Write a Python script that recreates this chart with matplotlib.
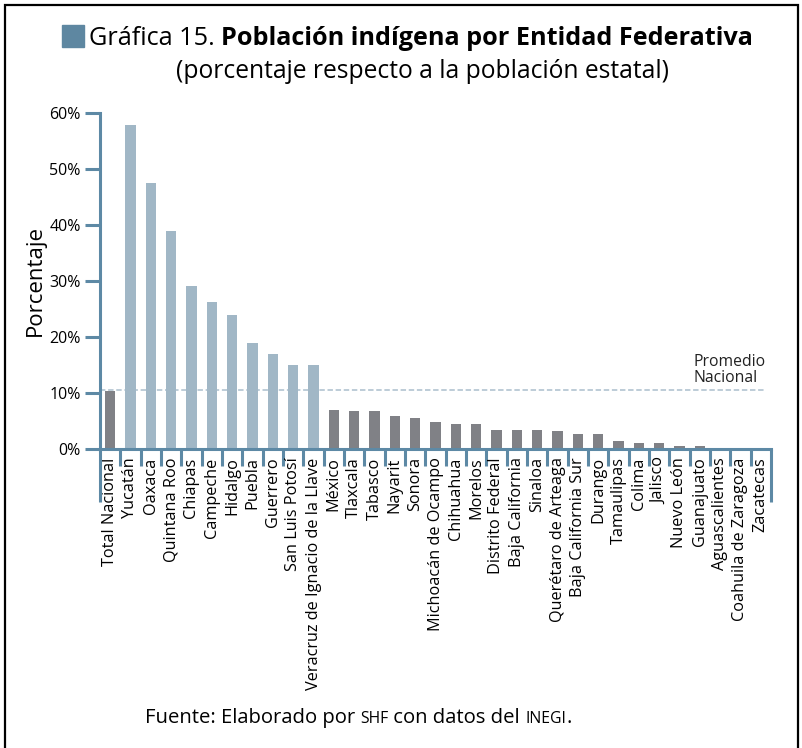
import matplotlib
matplotlib.use("Agg")
import matplotlib.pyplot as plt
from matplotlib.patches import Rectangle

# Población indígena por entidad (% de la población estatal)
entidades = ["Total Nacional", "Yucatán", "Oaxaca", "Quintana Roo", "Chiapas",
             "Campeche", "Hidalgo", "Puebla", "Guerrero", "San Luis Potosí",
             "Veracruz de Ignacio de la Llave", "México", "Tlaxcala", "Tabasco",
             "Nayarit", "Sonora", "Michoacán de Ocampo", "Chihuahua", "Morelos",
             "Distrito Federal", "Baja California", "Sinaloa", "Querétaro de Arteaga",
             "Baja California Sur", "Durango", "Tamaulipas", "Colima", "Jalisco",
             "Nuevo León", "Guanajuato", "Aguascalientes", "Coahuila de Zaragoza",
             "Zacatecas"]
porcentajes = [10.3, 57.9, 47.5, 38.9, 29.1, 26.2, 23.9, 18.9, 17.0, 15.0,
               15.0, 7.0, 6.8, 6.8, 5.9, 5.5, 4.8, 4.5, 4.5, 3.4,
               3.4, 3.4, 3.2, 2.7, 2.7, 1.4, 1.1, 1.1, 0.5, 0.5,
               0.1, 0.1, 0.1]
promedio_nacional = 10.6
yticks = [0, 10, 20, 30, 40, 50, 60]

FONT = "Open Sans"
AXIS_COLOR = "#5d89a5"
LIGHT = "#a1b7c6"
GRAY = "#808186"

W, H = 803, 748
fig = plt.figure(figsize=(W / 100, H / 100), dpi=100)
plt.rcParams["font.family"] = FONT


def px(x, y):
    return x / W, 1 - y / H


# marco negro alrededor de la figura
fig.patches.append(Rectangle(px(5, 800), 793 / W, 795 / H, transform=fig.transFigure,
                             fill=False, edgecolor="black", linewidth=1.6))

ax = fig.add_axes([100 / W, 1 - 449 / H, 671 / W, 336 / H])

colors = [GRAY if p < promedio_nacional else LIGHT for p in porcentajes]
colors[0] = GRAY
xs = list(range(len(entidades)))
ax.bar(xs, porcentajes, width=0.52, color=colors, zorder=2)

ax.set_xlim(-0.5, len(entidades) - 0.5)
ax.set_ylim(0, 60)

for s in ["top", "right"]:
    ax.spines[s].set_visible(False)
for s in ["left", "bottom"]:
    ax.spines[s].set_color(AXIS_COLOR)
    ax.spines[s].set_linewidth(2.2)

ax.set_yticks(yticks)
ax.set_yticklabels([f"{v}%" for v in yticks], fontsize=11.5)
ax.tick_params(axis="y", length=11, width=2.2, color=AXIS_COLOR, pad=3)

# separadores entre categorías como ticks mayores, nombres en los menores
ax.set_xticks([x - 0.5 for x in xs[1:]])
ax.set_xticklabels([])
ax.tick_params(axis="x", which="major", length=12, width=2.2, color=AXIS_COLOR)
ax.set_xticks(xs, minor=True)
ax.set_xticklabels(entidades, minor=True, rotation=90, fontsize=11.7, va="top", ha="center")
ax.tick_params(axis="x", which="minor", length=0, pad=6)

# extremos más largos del eje horizontal
ax.vlines([-0.5, len(entidades) - 0.5], 0, -0.158, transform=ax.get_xaxis_transform(),
          color=AXIS_COLOR, linewidth=2.2, clip_on=False)

ax.axhline(promedio_nacional, xmin=0, xmax=0.991, color="#b7c8d4", linewidth=1.3,
           linestyle=(0, (3, 1.5)), zorder=1)
ax.text(28.7, promedio_nacional + 0.6, "Promedio\nNacional", fontsize=11.3,
        ha="left", va="bottom", linespacing=1.0, color="#222222")

ax.set_ylabel("Porcentaje", fontsize=16, labelpad=8)
ax.yaxis.set_label_coords(-0.080, 0.5)

# título en dos estilos
fig.patches.append(Rectangle(px(62, 47), 22 / W, 22 / H, transform=fig.transFigure,
                             color="#5e87a1"))
renderer = fig.canvas.get_renderer()


def rich(pieces, x0, y, ha="left"):
    texts = []
    x = x0
    for s, kw in pieces:
        t = fig.text(x / W, 1 - y / H, s, va="baseline", ha="left", **kw)
        w = t.get_window_extent(renderer).width
        texts.append((t, w))
        x += w
    if ha == "center":
        shift = (x - x0) / 2
        for t, w in texts:
            t.set_x(t.get_position()[0] - shift / W)


rich([("Gráfica 15. ", dict(fontsize=18.2)),
      ("Población indígena por Entidad Federativa", dict(fontsize=18.2, fontweight="bold"))],
     89, 45)
fig.text(422 / W, 1 - 72 / H, "(porcentaje respecto a la población estatal)",
         ha="center", va="center", fontsize=17.7)

rich([("Fuente: Elaborado por ", dict(fontsize=14.6)),
      ("SHF", dict(fontsize=11.3)),
      (" con datos del ", dict(fontsize=14.6)),
      ("INEGI", dict(fontsize=11.3)),
      (".", dict(fontsize=14.6))],
     358, 723, ha="center")

fig.savefig("out.png", dpi=100)
